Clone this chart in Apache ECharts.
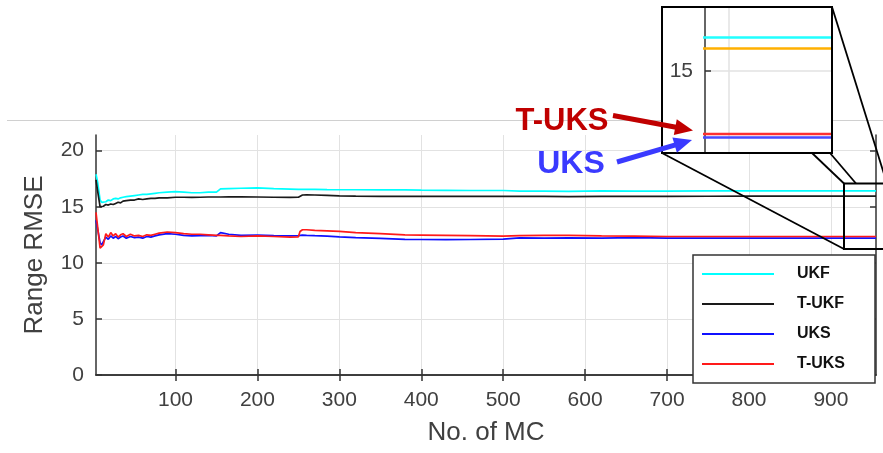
<!DOCTYPE html>
<html><head><meta charset="utf-8">
<script src="https://cdn.jsdelivr.net/npm/echarts@6/dist/echarts.min.js"></script>
<style>html,body{margin:0;padding:0;background:#fff}#c{width:883px;height:453px}</style>
</head><body><div id="c"></div>
<script>
// Monte Carlo run index
const mc = [3,5,8,10,12,15,18,21,24,27,30,33,36,40,45,50,55,60,65,70,75,80,90,100,110,120,130,140,150,152,155,165,180,200,220,240,250,252,255,260,270,285,300,320,350,380,400,430,460,500,520,550,580,620,660,700,750,800,850,900,955];
const ukf = [17.9,17.2,15.6,15.4,15.5, 15.45,15.6,15.55,15.7,15.75, 15.7,15.8,15.85,15.9,15.95, 16.0,16.05,16.1,16.1,16.15, 16.2,16.25,16.3,16.35,16.3, 16.25,16.25,16.3,16.3,16.35, 16.6,16.62,16.65,16.68,16.62, 16.58,16.55,16.55,16.55,16.55, 16.55,16.53,16.52,16.52,16.5, 16.5,16.48,16.47,16.45,16.45, 16.4,16.4,16.37,16.42,16.4, 16.4,16.42,16.42,16.42,16.42, 16.42];
const tukf = [17.4,16.4,15.0,15.0,15.05, 15.2,15.15,15.25,15.2,15.3, 15.4,15.35,15.5,15.55,15.6, 15.6,15.7,15.65,15.7,15.75, 15.75,15.8,15.8,15.85,15.85, 15.83,15.85,15.87,15.87,15.87, 15.87,15.88,15.88,15.87,15.85, 15.83,15.85,15.95,16.05,16.07, 16.05,16.02,15.98,15.95,15.93, 15.92,15.92,15.93,15.92,15.92, 15.93,15.92,15.9,15.92,15.93, 15.93,15.94,15.95,15.95,15.95, 15.95];
const uks = [13.8,13.0,11.8,11.6,11.9, 12.3,12.1,12.4,12.2,12.35, 12.15,12.3,12.4,12.2,12.35, 12.25,12.3,12.2,12.35,12.3, 12.4,12.5,12.6,12.55,12.45, 12.4,12.42,12.45,12.4,12.5, 12.7,12.55,12.45,12.48,12.42, 12.4,12.42,12.45,12.48,12.45, 12.42,12.38,12.32,12.25,12.18, 12.1,12.08,12.07,12.08,12.12, 12.22,12.2,12.22,12.2,12.25, 12.2,12.2,12.2,12.2,12.2, 12.2];
const tuks = [14.5,13.2,11.3,11.2,11.6, 12.6,12.3,12.7,12.4,12.6, 12.3,12.5,12.6,12.35,12.55, 12.4,12.45,12.35,12.5,12.45, 12.55,12.65,12.75,12.7,12.6, 12.55,12.55,12.5,12.45,12.4, 12.45,12.4,12.35,12.4,12.35, 12.3,12.32,12.8,12.95,12.95, 12.9,12.85,12.8,12.7,12.6, 12.5,12.48,12.45,12.42,12.38, 12.42,12.45,12.45,12.4,12.38, 12.35,12.35,12.35,12.35,12.35, 12.35];
const names = ['UKF','T-UKF','UKS','T-UKS'];
const xTicks = [100,200,300,400,500,600,700,800,900];
const yTicks = [0,5,10,15,20];
const insetXTicks = [925];
const insetYTicks = [15];

const FONT = '"Liberation Sans", Arial, Helvetica, sans-serif';
const AX = '#333';
const GRID = '#e2e2e2';
const pairs = arr => mc.map((x,i)=>[x, arr[i]]);
const seriesData = [ukf, tukf, uks, tuks];
const mainColors = ['#00ffff','#1a1a1a','#1010ff','#ff1a1a'];
const insetColors = ['#22ffff','#ffb000','#4a4aff','#ff3030'];

const series = [];
names.forEach((n,i)=>{
  series.push({name:n, type:'line', xAxisIndex:0, yAxisIndex:0, data:pairs(seriesData[i]),
    symbol:'none', showSymbol:false, lineStyle:{color:mainColors[i], width:1.7}, itemStyle:{color:mainColors[i]}, z:2});
});
names.forEach((n,i)=>{
  series.push({name:'inset-'+n, type:'line', xAxisIndex:2, yAxisIndex:2, data:pairs(seriesData[i]),
    symbol:'none', showSymbol:false, clip:true, lineStyle:{color:insetColors[i], width:2.5}, itemStyle:{color:insetColors[i]}, z:13});
});

const chart = echarts.init(document.getElementById('c'), null, {renderer:'canvas'});
const option = {
  animation:false,
  backgroundColor:'#fff',
  grid:[{left:96, right:7, top:135, bottom:78}, {left:705, top:7, width:127, height:146}],
  xAxis:[
    {gridIndex:0, type:'value', min:3, max:955, position:'bottom',
     axisLine:{lineStyle:{color:AX, width:1.5}},
     axisTick:{inside:true, length:6, customValues:xTicks, lineStyle:{color:AX, width:1.5}},
     axisLabel:{customValues:xTicks, color:'#404040', fontSize:21, fontFamily:FONT, margin:15},
     splitLine:{show:true, lineStyle:{color:GRID, width:1}},
     name:'No. of MC', nameLocation:'middle', nameGap:45,
     nameTextStyle:{fontSize:26, color:'#404040', fontFamily:FONT}},
    {gridIndex:0, type:'value', min:3, max:955, position:'top',
     axisLine:{lineStyle:{color:AX, width:1.5}},
     axisTick:{inside:true, length:6, customValues:xTicks, lineStyle:{color:AX, width:1.5}},
     axisLabel:{show:false}, splitLine:{show:false}},
    {gridIndex:1, type:'value', min:918, max:955, position:'bottom',
     axisLine:{show:false}, axisTick:{show:false, customValues:insetXTicks},
     axisLabel:{show:false}, splitLine:{show:true, lineStyle:{color:GRID, width:1.5}}, z:12}
  ],
  yAxis:[
    {gridIndex:0, type:'value', min:0, max:21.4, position:'left',
     axisLine:{show:true, lineStyle:{color:AX, width:1.5}},
     axisTick:{show:true, inside:true, length:6, customValues:yTicks, lineStyle:{color:AX, width:1.5}},
     axisLabel:{customValues:yTicks, color:'#404040', fontSize:21, fontFamily:FONT, margin:12},
     splitLine:{show:true, lineStyle:{color:GRID, width:1}},
     name:'Range RMSE', nameLocation:'middle', nameGap:48, nameRotate:90,
     nameTextStyle:{fontSize:26, color:'#404040', fontFamily:FONT}},
    {gridIndex:0, type:'value', min:0, max:21.4, position:'right',
     axisLine:{show:true, lineStyle:{color:AX, width:1.5}},
     axisTick:{show:true, inside:true, length:6, customValues:yTicks, lineStyle:{color:AX, width:1.5}},
     axisLabel:{show:false}, splitLine:{show:false}},
    {gridIndex:1, type:'value', min:11.55, max:17.7, position:'left',
     axisLine:{show:true, lineStyle:{color:AX, width:1.5}},
     axisTick:{show:true, inside:true, length:6, customValues:insetYTicks, lineStyle:{color:AX, width:1.5}},
     axisLabel:{customValues:insetYTicks, color:'#404040', fontSize:21, fontFamily:FONT, margin:12},
     splitLine:{show:true, lineStyle:{color:GRID, width:1.5}}, z:12}
  ],
  legend:{
    data:names, orient:'vertical', left:693, top:255,
    itemWidth:72, itemHeight:14, itemGap:14, padding:[11,30,11,8],
    backgroundColor:'#fff', borderColor:'#333', borderWidth:1.5, borderRadius:0,
    selectedMode:false,
    itemStyle:{opacity:0, borderWidth:0},
    lineStyle:{width:2},
    textStyle:{fontFamily:FONT, fontSize:16, fontWeight:'bold', color:'#111', padding:[0,0,0,18]}
  },
  series: series,
  graphic:[
    {type:'line', shape:{x1:7,y1:120.5,x2:883,y2:120.5}, style:{stroke:'#d0d0d0', lineWidth:1}, z:1, silent:true},
    {type:'rect', shape:{x:662,y:7,width:170,height:146}, style:{fill:'#fff', stroke:null}, z:10, silent:true},
    {type:'rect', shape:{x:662,y:7,width:170,height:146}, style:{fill:null, stroke:'#000', lineWidth:2}, z:14, silent:true},
    {type:'rect', shape:{x:844,y:183.5,width:46,height:65.5}, style:{fill:null, stroke:'#000', lineWidth:2}, z:14, silent:true},
    {type:'line', shape:{x1:662,y1:153,x2:844,y2:249}, style:{stroke:'#000', lineWidth:1.8}, z:14, silent:true},
    {type:'line', shape:{x1:812,y1:153,x2:844,y2:183.5}, style:{stroke:'#000', lineWidth:1.8}, z:14, silent:true},
    {type:'line', shape:{x1:830,y1:153,x2:856,y2:183.5}, style:{stroke:'#000', lineWidth:1.8}, z:14, silent:true},
    {type:'line', shape:{x1:832,y1:7,x2:889,y2:190}, style:{stroke:'#000', lineWidth:1.8}, z:14, silent:true},
    // T-UKS annotation
    {type:'line', shape:{x1:613,y1:115.5,x2:676,y2:127.3}, style:{stroke:'#c00000', lineWidth:5}, z:20, silent:true},
    {type:'polygon', shape:{points:[[693,130.5],[673.8,135.1],[676.8,119.3]]}, style:{fill:'#c00000'}, z:20, silent:true},
    {type:'text', style:{x:562, y:121, text:'T-UKS', fill:'#c00000', font:'bold 31px '+FONT, align:'center', verticalAlign:'middle', textAlign:'center', textVerticalAlign:'middle'}, z:20, silent:true},
    // UKS annotation
    {type:'line', shape:{x1:617,y1:162,x2:675.5,y2:144.9}, style:{stroke:'#3a3aff', lineWidth:5}, z:20, silent:true},
    {type:'polygon', shape:{points:[[692,140],[676.9,152.8],[672.4,137.4]]}, style:{fill:'#3a3aff'}, z:20, silent:true},
    {type:'text', style:{x:571, y:164, text:'UKS', fill:'#3a3aff', font:'bold 32px '+FONT, align:'center', verticalAlign:'middle', textAlign:'center', textVerticalAlign:'middle'}, z:20, silent:true}
  ]
};
chart.setOption(option);
</script>
</body></html>
